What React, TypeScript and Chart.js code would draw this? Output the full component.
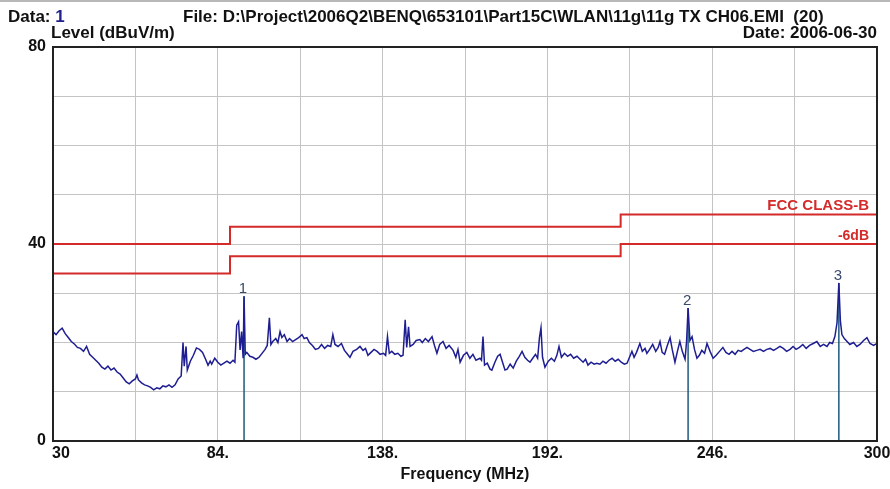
import React, { useEffect, useRef } from "react";
import { Chart, registerables } from "chart.js";
Chart.register(...registerables);

// Measured trace (MHz, dBuV/m)
const freqs = [
  30, 31, 32, 33, 34, 35, 36, 37, 38, 39, 40, 41, 42, 43, 44, 45, 46, 47, 48, 49,
  50, 51, 52, 53, 54, 55, 56, 57, 57.5, 58, 59, 60, 61, 62, 63, 64, 65, 66, 67, 68,
  69, 70, 71, 72, 72.6, 73, 73.6, 74, 75, 76, 77, 78, 79, 80, 80.8, 81.5, 82, 83, 84, 85,
  86, 87, 88, 89, 89.6, 90.2, 90.8, 91.3, 91.8, 92.3, 92.6, 93.0, 93.5, 94.5, 95.5, 96.5, 97.5, 98.5, 99.5, 100.2,
  100.9, 101.4, 102, 103, 103.7, 104.4, 105, 105.8, 106.7, 107.5, 108.5, 109.5, 110.5, 111.6, 112.3, 113.2, 114, 115, 116, 117,
  118, 119, 120, 121, 121.7, 122.4, 123.4, 124.5, 125.5, 126.5, 127.3, 128.3, 129.5, 130.6, 131.6, 132.4, 133.2, 134.2, 135.2, 136.2,
  137.2, 138.3, 139, 139.6, 140.2, 141, 142, 143, 144, 144.7, 145.4, 145.9, 146.5, 147, 148, 149, 150.2, 151, 152, 153,
  154.2, 155, 155.8, 156.7, 157.8, 158.8, 159.8, 161.1, 162, 162.7, 163.4, 164.5, 165.6, 166.6, 167.6, 168.6, 169.9, 170.4, 170.9, 171.4,
  172.3, 173.2, 173.8, 174.8, 175.7, 176.5, 177.3, 178.1, 178.8, 179.8, 180.8, 181.8, 182.8, 183.7, 184.6, 185.5, 186.3, 187.2, 188.1, 188.8,
  189.4, 189.9, 190.4, 191.2, 192.3, 193.3, 194.3, 195.1, 195.8, 196.6, 197.6, 198.6, 199.6, 200.6, 201.7, 202.7, 203.7, 204.5, 205.3, 206.3,
  207.3, 208.2, 209.2, 210.2, 211.2, 212.2, 213.2, 214.2, 215.2, 216.2, 217.2, 218.1, 218.9, 219.7, 220.4, 221.2, 222.3, 223.1, 224, 224.6,
  225.5, 226.5, 227.5, 228.3, 228.9, 229.6, 230.4, 231.3, 232.2, 232.9, 233.8, 234.6, 235.4, 236.2, 237.1, 237.6, 238.1, 238.7, 239.4, 240.2,
  241, 241.8, 242.6, 243.5, 244.3, 245.3, 246.3, 247.3, 248.4, 249.5, 250.5, 251.5, 252.5, 253.5, 254.5, 255.5, 256.4, 257.4, 258.4, 259.5,
  260.6, 261.7, 262.8, 263.9, 265, 266.1, 267.2, 268.2, 269.3, 270.4, 271.5, 272.5, 273.5, 274.6, 275.7, 276.8, 277.9, 279.1, 280.3, 281.4,
  282.5, 283.6, 284.5, 285.4, 286.2, 286.9, 287.5, 288, 288.5, 289.3, 290.2, 291.1, 292.3, 293.4, 294.4, 295.6, 296.7, 297.7, 298.9, 300,
];
const levels = [
  22.2, 21.6, 22.4, 22.9, 21.8, 21.0, 20.2, 19.7, 19.0, 18.8, 18.2, 19.2, 17.6, 17.0, 16.4, 15.8, 15.0, 14.6, 15.2, 14.4,
  14.8, 14.0, 13.6, 12.8, 12.0, 11.6, 12.2, 12.6, 13.4, 12.4, 11.8, 11.4, 11.2, 10.9, 10.4, 10.8, 10.6, 11.2, 11.0, 11.4,
  10.9, 11.4, 12.6, 13.2, 20.0, 15.2, 19.2, 14.4, 16.2, 17.4, 18.9, 18.6, 18.0, 16.6, 15.4, 16.2, 15.6, 16.8, 16.0, 15.4,
  15.8, 16.2, 15.8, 16.4, 16.0, 23.5, 24.2, 18.5, 22.2, 16.8, 29.4, 17.6, 18.0, 17.2, 17.0, 16.6, 17.0, 17.8, 18.6, 19.4,
  25.0, 19.6, 20.2, 20.8, 20.0, 22.2, 21.0, 21.6, 20.2, 20.8, 20.2, 20.6, 21.0, 21.6, 20.8, 21.0, 20.0, 19.4, 18.6, 18.8,
  19.6, 18.8, 19.4, 19.2, 21.6, 19.6, 19.2, 19.8, 18.4, 17.6, 17.0, 18.2, 18.6, 19.2, 18.4, 18.8, 17.4, 18.0, 18.6, 18.2,
  17.6, 17.8, 17.4, 21.2, 17.8, 18.2, 17.6, 17.8, 17.2, 17.4, 24.6, 19.0, 23.2, 19.2, 19.6, 20.4, 20.6, 20.0, 20.8, 20.2,
  21.2, 19.4, 17.8, 19.6, 20.2, 18.8, 19.4, 18.4, 17.0, 18.6, 16.0, 17.4, 18.0, 16.8, 17.6, 16.4, 16.8, 16.4, 21.2, 15.4,
  15.8, 14.6, 14.4, 16.0, 17.2, 17.6, 16.0, 14.4, 14.6, 15.6, 14.8, 16.2, 17.2, 18.2, 17.0, 16.4, 16.0, 16.8, 17.6, 16.8,
  21.0, 23.0, 17.0, 15.0, 16.2, 16.8, 16.2, 17.4, 19.2, 17.0, 17.8, 17.2, 17.6, 16.8, 17.2, 16.6, 16.0, 16.6, 15.4, 16.0,
  15.6, 15.8, 15.6, 16.2, 15.8, 16.4, 16.8, 16.2, 16.6, 16.0, 15.6, 15.8, 17.0, 18.2, 17.0, 18.0, 19.8, 18.2, 18.8, 17.8,
  18.6, 19.6, 18.2, 19.0, 20.2, 18.0, 17.6, 19.4, 21.0, 18.6, 16.0, 18.2, 20.2, 18.2, 16.6, 20.2, 27.0, 20.4, 21.2, 18.6,
  16.8, 17.4, 18.4, 17.8, 19.8, 18.2, 16.8, 17.4, 18.2, 19.0, 18.0, 17.6, 18.2, 17.6, 18.4, 18.2, 18.6, 19.0, 18.6, 18.2,
  18.4, 18.6, 18.2, 18.6, 18.8, 18.4, 18.8, 19.2, 18.8, 18.2, 18.6, 19.2, 18.6, 19.0, 19.6, 18.8, 19.4, 19.8, 20.2, 19.2,
  19.6, 19.2, 20.0, 19.8, 21.2, 24.0, 32.1, 24.4, 21.6, 20.8, 20.2, 19.6, 20.0, 19.2, 19.6, 20.4, 21.0, 19.8, 19.4, 19.8,
];

// Limit lines
const limitFreqs = [30, 88, 88, 216, 216, 300];
const fccLimit = [40, 40, 43.5, 43.5, 46, 46];
const marginLimit = [34, 34, 37.5, 37.5, 40, 40];

// Markers
const markerFreqs = [92.6, 238.1, 287.5];
const markerLevels = [29.4, 27.0, 32.1];
const markerNames = ["1", "2", "3"];

// Axes
const xGridValues = [30, 57, 84, 111, 138, 165, 192, 219, 246, 273, 300];
const xTickValues = [30, 84, 138, 192, 246, 300];
const xTickLabels = ["30", "84.", "138.", "192.", "246.", "300"];
const yGridValues = [0, 10, 20, 30, 40, 50, 60, 70, 80];
const yTickValues = [0, 40, 80];
const yTickLabels = ["0", "40", "80"];

const FONT = "'Liberation Sans', Arial, sans-serif";
const RED = "#d42a2a";

export default function App() {
  const ref = useRef<HTMLCanvasElement>(null);

  useEffect(() => {
    document.body.style.margin = "0";
    const canvas = ref.current;
    if (!canvas) return;

    const textPlugin = {
      id: "emiText",
      afterDatasetsDraw(chart: any) {
        const ctx = chart.ctx as CanvasRenderingContext2D;
        const { left, right, top, bottom } = chart.chartArea;
        const xs = chart.scales.x;
        const ys = chart.scales.y;
        ctx.save();
        // top gray band
        ctx.fillStyle = "#b8b8b8";
        ctx.fillRect(0, 0, 890, 2);
        // frame
        ctx.strokeStyle = "#222";
        ctx.lineWidth = 2;
        ctx.strokeRect(left, top, right - left, bottom - top);

        ctx.fillStyle = "#111";
        ctx.textBaseline = "alphabetic";
        ctx.font = `bold 17px ${FONT}`;
        ctx.textAlign = "left";
        ctx.fillText("Data: ", 8, 22);
        const dw = ctx.measureText("Data: ").width;
        ctx.fillStyle = "#20208a";
        ctx.fillText("1", 8 + dw, 22);
        ctx.fillStyle = "#111";
        ctx.fillText(
          "File: D:\\Project\\2006Q2\\BENQ\\653101\\Part15C\\WLAN\\11g\\11g TX CH06.EMI  (20)",
          183,
          22,
          645
        );
        ctx.fillText("Level (dBuV/m)", 51, 38, 125);
        ctx.textAlign = "right";
        ctx.fillText("Date: 2006-06-30", 877, 38, 136);

        // y tick labels
        ctx.font = `bold 16px ${FONT}`;
        ctx.textAlign = "right";
        ctx.textBaseline = "middle";
        yTickValues.forEach((v, i) => {
          ctx.fillText(yTickLabels[i], 46, ys.getPixelForValue(v));
        });
        // x tick labels
        ctx.textBaseline = "top";
        xTickValues.forEach((v, i) => {
          ctx.textAlign = i === 0 ? "left" : "center";
          const px = xs.getPixelForValue(v);
          ctx.fillText(xTickLabels[i], i === 0 ? px - 1 : px, 446);
        });
        ctx.textAlign = "center";
        ctx.fillText("Frequency (MHz)", (left + right) / 2, 467);

        // limit labels
        ctx.fillStyle = RED;
        ctx.font = `bold 15px ${FONT}`;
        ctx.textAlign = "right";
        ctx.textBaseline = "alphabetic";
        ctx.fillText("FCC CLASS-B", 869, ys.getPixelForValue(46) - 4, 107);
        ctx.font = `bold 14px ${FONT}`;
        ctx.fillText("-6dB", 869, ys.getPixelForValue(40) - 4);

        // marker labels
        ctx.fillStyle = "#3b4a6b";
        ctx.font = `15px ${FONT}`;
        ctx.textAlign = "center";
        markerFreqs.forEach((f, i) => {
          ctx.fillText(markerNames[i], xs.getPixelForValue(f) - 1, ys.getPixelForValue(markerLevels[i]) - 3);
        });
        ctx.restore();
      },
    };

    const markerSets = markerFreqs.map((f, i) => ({
      label: "M" + markerNames[i],
      data: [
        { x: f, y: 0 },
        { x: f, y: markerLevels[i] },
      ],
      borderColor: "#1d5a7c",
      borderWidth: 1.5,
      pointRadius: 0,
      order: 3,
    }));

    const chart = new Chart(canvas, {
      type: "line",
      data: {
        datasets: [
          ...markerSets,
          {
            label: "Trace",
            data: freqs.map((f, i) => ({ x: f, y: levels[i] })),
            borderColor: "#1e1e92",
            borderWidth: 1.5,
            pointRadius: 0,
            tension: 0,
            order: 2,
          },
          {
            label: "FCC CLASS-B",
            data: limitFreqs.map((f, i) => ({ x: f, y: fccLimit[i] })),
            borderColor: RED,
            borderWidth: 2,
            pointRadius: 0,
            order: 1,
          },
          {
            label: "-6dB",
            data: limitFreqs.map((f, i) => ({ x: f, y: marginLimit[i] })),
            borderColor: RED,
            borderWidth: 2,
            pointRadius: 0,
            order: 1,
          },
        ],
      },
      options: {
        responsive: false,
        animation: false,
        layout: { padding: { left: 53, right: 13, top: 47, bottom: 48 } },
        plugins: { legend: { display: false }, tooltip: { enabled: false } },
        scales: {
          x: {
            type: "linear",
            min: 30,
            max: 300,
            afterBuildTicks: (s: any) => {
              s.ticks = xGridValues.map((v) => ({ value: v }));
            },
            ticks: { display: false },
            grid: { color: "#c4c4c4", lineWidth: 1, drawTicks: false },
            border: { display: false },
          },
          y: {
            type: "linear",
            min: 0,
            max: 80,
            afterBuildTicks: (s: any) => {
              s.ticks = yGridValues.map((v) => ({ value: v }));
            },
            ticks: { display: false },
            grid: { color: "#c4c4c4", lineWidth: 1, drawTicks: false },
            border: { display: false },
          },
        },
      },
      plugins: [textPlugin],
    } as any);

    return () => chart.destroy();
  }, []);

  return <canvas ref={ref} width={890} height={489} style={{ display: "block", background: "#fff" }} />;
}
